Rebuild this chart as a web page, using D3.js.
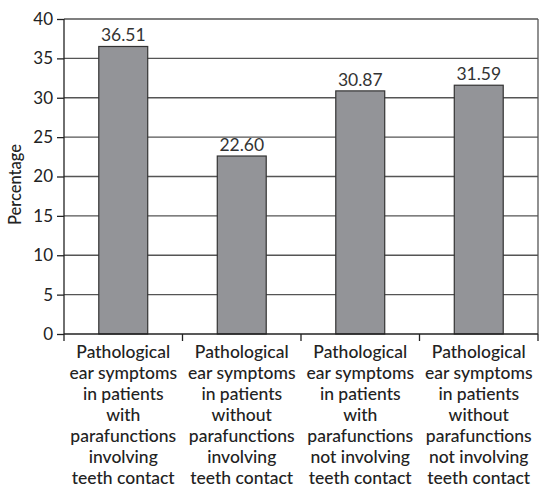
<!DOCTYPE html>
<html>
<head>
<meta charset="utf-8">
<script src="https://cdn.jsdelivr.net/npm/d3@7"></script>
<style>
  body { margin: 0; background: #fff; }
  text { font-family: Lato, "Open Sans", sans-serif; fill: #222; }
</style>
</head>
<body>
<svg width="539" height="489"></svg>
<script>
var categories = ["c1", "c2", "c3", "c4"];
var labels = [
    ["Pathological", "ear symptoms", "in patients", "with", "parafunctions", "involving", "teeth contact"],
    ["Pathological", "ear symptoms", "in patients", "without", "parafunctions", "involving", "teeth contact"],
    ["Pathological", "ear symptoms", "in patients", "with", "parafunctions", "not involving", "teeth contact"],
    ["Pathological", "ear symptoms", "in patients", "without", "parafunctions", "not involving", "teeth contact"]
];
var values = [36.51, 22.60, 30.87, 31.59];
var valueText = ["36.51", "22.60", "30.87", "31.59"];
var yTicks = [0, 5, 10, 15, 20, 25, 30, 35, 40];

var svg = d3.select("svg");
var mLeft = 64, mRight = 538, mTop = 19, mBottom = 334;

var x = d3.scaleBand().domain(categories).range([mLeft, mRight]).paddingInner(0.587).paddingOuter(0.2935);
var xb = d3.scaleBand().domain(categories).range([mLeft, mRight]);
var y = d3.scaleLinear().domain([0, 40]).range([mBottom, mTop]);

// gridlines
svg.append("g").selectAll("line").data(yTicks.slice(1)).enter().append("line")
    .attr("x1", mLeft).attr("x2", mRight)
    .attr("y1", function(d) { return y(d); }).attr("y2", function(d) { return y(d); })
    .attr("stroke", "#555").attr("stroke-width", 1.3);
// right border
svg.append("line").attr("x1", mRight).attr("x2", mRight).attr("y1", mTop).attr("y2", mBottom)
    .attr("stroke", "#555").attr("stroke-width", 1.3);

// bars
svg.selectAll(".bar").data(values).enter().append("rect")
    .attr("class", "bar")
    .attr("x", function(d, i) { return x(categories[i]); })
    .attr("y", function(d) { return y(d); })
    .attr("width", x.bandwidth())
    .attr("height", function(d) { return mBottom - y(d); })
    .attr("fill", "#939498").attr("stroke", "#333").attr("stroke-width", 1.2);

// value labels
svg.selectAll(".val").data(values).enter().append("text")
    .attr("x", function(d, i) { return x(categories[i]) + x.bandwidth() / 2; })
    .attr("y", function(d) { return y(d) - 5; })
    .attr("text-anchor", "middle").style("font-size", "17.5px").style("fill", "#333")
    .text(function(d, i) { return valueText[i]; });

// y axis
var gy = svg.append("g").attr("transform", "translate(" + mLeft + ",0)")
    .call(d3.axisLeft(y).tickValues(yTicks).tickSize(7).tickPadding(4));
gy.selectAll("text").style("font-size", "17px").attr("fill", "#333");
gy.selectAll("line, path").attr("stroke", "#222").attr("stroke-width", 1.3);
gy.select(".domain").attr("d", "M0," + mBottom + "V" + mTop);

// x axis
var gx = svg.append("g").attr("transform", "translate(0," + mBottom + ")");
gx.append("line").attr("x1", mLeft).attr("x2", mRight).attr("stroke", "#222").attr("stroke-width", 1.3);
gx.selectAll(".tk").data(categories.concat(["end"])).enter().append("line")
    .attr("x1", function(d, i) { return i < 4 ? xb(d) : mRight; })
    .attr("x2", function(d, i) { return i < 4 ? xb(d) : mRight; })
    .attr("y1", 0).attr("y2", 7).attr("stroke", "#222").attr("stroke-width", 1.3);

// category labels
labels.forEach(function(lines, i) {
    var cx = xb(categories[i]) + xb.bandwidth() / 2;
    var t = svg.append("text")
        .attr("x", cx).attr("y", 358)
        .attr("text-anchor", "middle").style("font-size", "17.5px").style("font-weight", 500);
    lines.forEach(function(l, j) {
        t.append("tspan").attr("x", cx).attr("dy", j === 0 ? 0 : 21).text(l);
    });
});

// y title
svg.append("text").attr("transform", "translate(21," + ((mTop + mBottom) / 2 + 8) + ") rotate(-90)")
    .attr("text-anchor", "middle").style("font-size", "16.5px").style("font-weight", 500)
    .text("Percentage");
</script>
</body>
</html>
